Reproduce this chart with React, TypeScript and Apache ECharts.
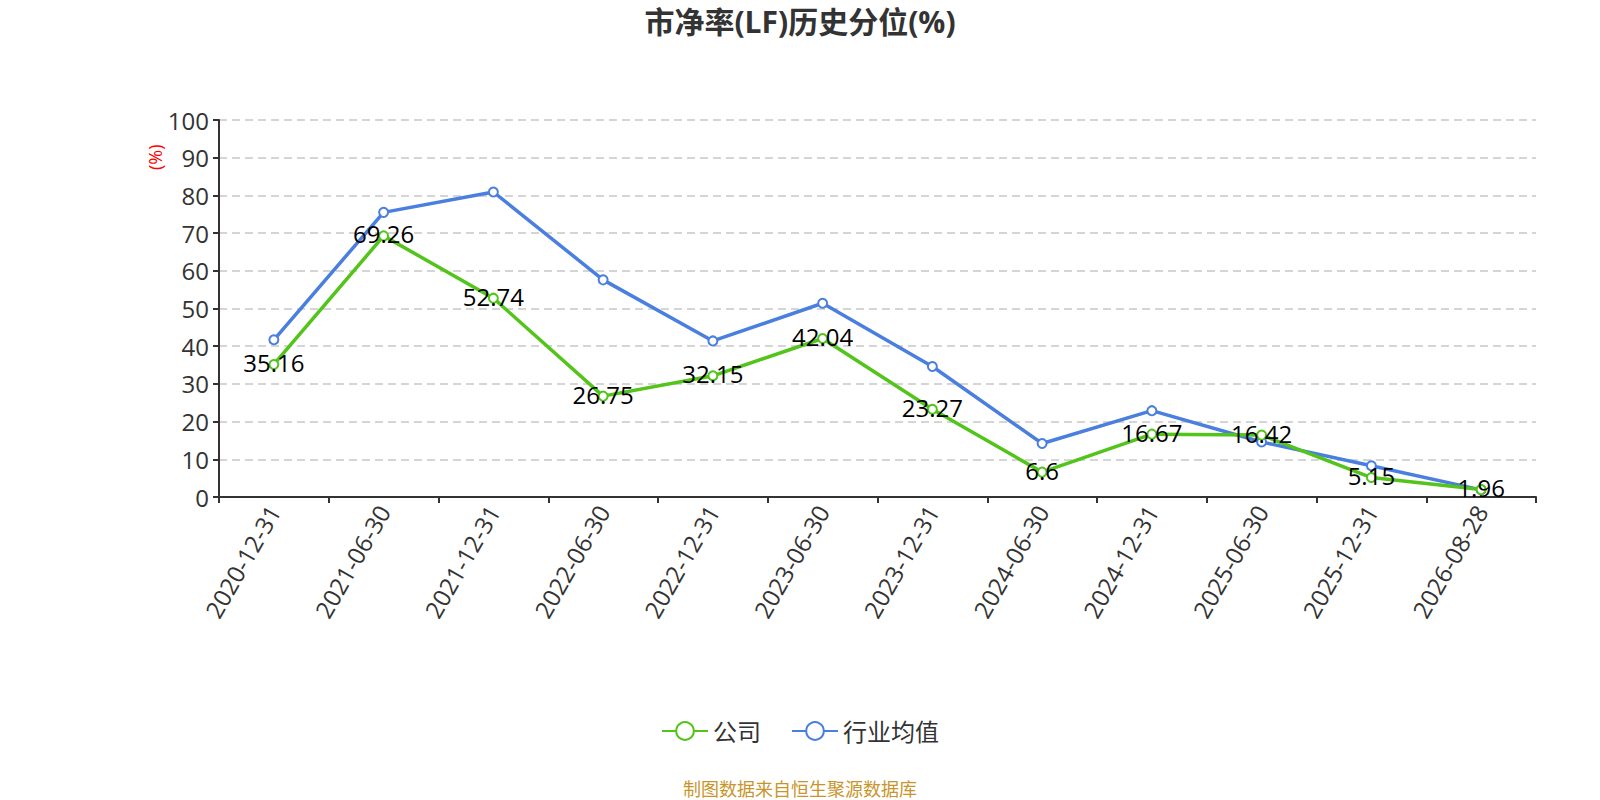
import React, { useEffect, useRef } from "react";
import * as echarts from "echarts";

const categories = [
  "2020-12-31", "2021-06-30", "2021-12-31", "2022-06-30", "2022-12-31", "2023-06-30",
  "2023-12-31", "2024-06-30", "2024-12-31", "2025-06-30", "2025-12-31", "2026-08-28",
];
const companyValues = [35.16, 69.26, 52.74, 26.75, 32.15, 42.04, 23.27, 6.6, 16.67, 16.42, 5.15, 1.96];
const industryValues = [41.7, 75.5, 80.9, 57.6, 41.4, 51.4, 34.6, 14.2, 22.9, 14.6, 8.3, 1.9];
const yTicks = { min: 0, max: 100, interval: 10 };

export default function App() {
  const ref = useRef<HTMLDivElement>(null);
  useEffect(() => {
    document.body.style.margin = "0";
    const chart = echarts.init(ref.current!, null, { renderer: "svg" });
    const font = "'Open Sans', 'Noto Sans CJK SC', 'Noto Sans', sans-serif";
    chart.setOption({
      animation: false,
      textStyle: { fontFamily: font },
      title: {
        text: "市净率(LF)历史分位(%)",
        left: "center",
        top: 1,
        textStyle: { fontSize: 30, fontWeight: "bold", color: "#333", fontFamily: font },
      },
      legend: {
        bottom: 52,
        left: "center",
        itemWidth: 46,
        itemHeight: 22,
        itemGap: 30,
        textStyle: { fontSize: 24, color: "#333" },
        data: ["公司", "行业均值"],
      },
      graphic: [
        {
          type: "text",
          left: "center",
          bottom: 2,
          style: { text: "制图数据来自恒生聚源数据库", fill: "#c9952b", fontSize: 18, fontFamily: font },
        },
        {
          type: "text",
          x: 146,
          y: 170,
          rotation: Math.PI / 2,
          style: { text: "(%)", fill: "#ff0000", fontSize: 18, fontFamily: font },
        },
      ],
      grid: { left: 219, right: 64, top: 120, bottom: 303, containLabel: false },
      xAxis: {
        type: "category",
        data: categories,
        boundaryGap: true,
        axisLine: { lineStyle: { color: "#333", width: 2 } },
        axisTick: { show: true, length: 6, lineStyle: { color: "#333", width: 2 } },
        axisLabel: { rotate: 60, fontSize: 24, color: "#333", margin: 10, interval: 0 },
      },
      yAxis: {
        type: "value",
        min: yTicks.min,
        max: yTicks.max,
        interval: yTicks.interval,
        axisLine: { show: true, lineStyle: { color: "#333", width: 2 } },
        axisTick: { show: true, length: 6, lineStyle: { color: "#333", width: 2 } },
        axisLabel: { fontSize: 24, color: "#333", margin: 10 },
        splitLine: { lineStyle: { type: [8, 5], color: "#c8c8c8", width: 1.5 } },
      },
      series: [
        {
          name: "公司",
          type: "line",
          data: companyValues,
          symbol: "emptyCircle",
          symbolSize: 9,
          itemStyle: { color: "#52c41a" },
          lineStyle: { width: 3.5, color: "#52c41a" },
          label: { show: true, position: "inside", offset: [0, -2], fontSize: 24, color: "#000" },
          z: 3,
        },
        {
          name: "行业均值",
          type: "line",
          data: industryValues,
          symbol: "emptyCircle",
          symbolSize: 9,
          itemStyle: { color: "#4a7fe0" },
          lineStyle: { width: 3.5, color: "#4a7fe0" },
          z: 2,
        },
      ],
    });
    return () => chart.dispose();
  }, []);
  return <div ref={ref} style={{ width: 1600, height: 800 }} />;
}
